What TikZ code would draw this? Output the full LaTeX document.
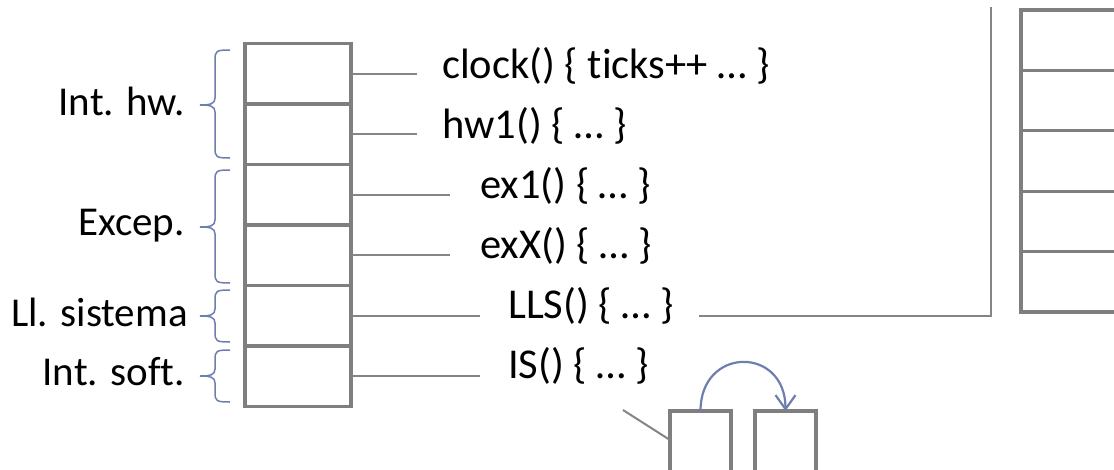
\documentclass[tikz,border=0pt]{standalone}
\usepackage{fontspec}
\setmainfont{Carlito}[RawFeature=-liga]
\usetikzlibrary{arrows.meta}
\definecolor{boxgray}{HTML}{7F7F7F}
\definecolor{linegray}{HTML}{858585}
\definecolor{braceblue}{HTML}{6E7EAF}
\begin{document}
\begin{tikzpicture}[x=1pt,y=-1pt,
  cell/.style={draw=boxgray, line width=3.2pt, minimum width=106pt, minimum height=60.5pt, inner sep=0pt, outer sep=0pt},
  rcell/.style={draw=boxgray, line width=3.2pt, minimum width=106pt, minimum height=60.4pt, inner sep=0pt, outer sep=0pt},
  smallbox/.style={draw=boxgray, line width=3.2pt, minimum width=61pt, minimum height=80pt, inner sep=0pt, outer sep=0pt},
  conn/.style={draw=linegray, line width=2pt},
  brace/.style={draw=braceblue, line width=1.5pt},
  arc/.style={draw=braceblue, line width=2.2pt, -{Straight Barb[length=14pt,width=20pt,line width=2.2pt]}},
  code/.style={anchor=base west, inner sep=0pt, font=\fontsize{42.5}{50}\selectfont},
  lab/.style={anchor=base east, inner sep=0pt, font=\fontsize{41}{48}\selectfont}
]
\path[use as bounding box, clip] (0,0) rectangle (1114,469);
\fill[white] (0,0) rectangle (1114,469);

% left column of cells
\foreach \i/\y in {1/73.75,2/134.25,3/194.75,4/255.25,5/315.75,6/376.25}
  \node[cell] (c\i) at (298,\y) {};

% right column of cells
\foreach \i/\y in {1/40.2,2/100.6,3/161,4/221.4,5/281.8}
  \node[rcell] (r\i) at (1074,\y) {};

% bottom boxes
\node[smallbox] (b1) at (700.5,451) {};
\node[smallbox] (b2) at (785.5,451) {};

% code texts
\node[code] (t1) at (442,78) {clock() \{ ticks++ … \}};
\node[code] (t2) at (442,138) {hw1() \{ … \}};
\node[code] (t3) at (480,198) {ex1() \{ … \}};
\node[code] (t4) at (480,258) {exX() \{ … \}};
\node[code] (t5) at (508,318) {LLS() \{ … \}};
\node[code] (t6) at (508,378) {IS() \{ … \}};

% labels
\node[lab] (l1) at (185,115) {Int. hw.};
\node[lab] (l2) at (185,235) {Excep.};
\node[lab] (l3) at (188,326) {Ll. sistema};
\node[lab] (l4) at (185,385) {Int. soft.};

% connectors
\draw[conn, shorten >=25pt] (c1.east) -- (c1.east -| t1.west);
\draw[conn, shorten >=25pt] (c2.east) -- (c2.east -| t2.west);
\draw[conn, shorten >=30pt] (c3.east) -- (c3.east -| t3.west);
\draw[conn, shorten >=30pt] (c4.east) -- (c4.east -| t4.west);
\draw[conn, shorten >=28pt] (c5.east) -- (c5.east -| t5.west);
\draw[conn, shorten >=28pt] (c6.east) -- (c6.east -| t6.west);

\coordinate (top) at (991,7);
\draw[conn, shorten <=25pt] (c5.east -| t5.east) -| (top);

\coordinate (isl) at (623,410);
\draw[conn] (isl) -- ([yshift=-29pt]b1.north west);

% arc with arrow
\draw[arc] (b1.north) .. controls +(0,-65) and +(0,-65) .. (b2.north);

% braces
\draw[brace] (230,50) .. controls (216,50) and (215,51) .. (215,60) -- (215,98)
  .. controls (215,104) and (210,105) .. (200,105)
  .. controls (210,105) and (215,106) .. (215,112) -- (215,148)
  .. controls (215,157) and (216,158) .. (230,158);
\draw[brace] (230,170) .. controls (216,170) and (215,171) .. (215,180) -- (215,220)
  .. controls (215,226) and (210,227) .. (200,227)
  .. controls (210,227) and (215,228) .. (215,234) -- (215,273)
  .. controls (215,282) and (216,283) .. (230,283);
\draw[brace] (230,290) .. controls (216,290) and (215,291) .. (215,300) -- (215,309)
  .. controls (215,315) and (210,316) .. (200,316)
  .. controls (210,316) and (215,317) .. (215,323) -- (215,332)
  .. controls (215,341) and (216,342) .. (230,342);
\draw[brace] (230,350) .. controls (216,350) and (215,351) .. (215,360) -- (215,369)
  .. controls (215,375) and (210,376) .. (200,376)
  .. controls (210,376) and (215,377) .. (215,383) -- (215,392)
  .. controls (215,401) and (216,402) .. (230,402);
\end{tikzpicture}
\end{document}
